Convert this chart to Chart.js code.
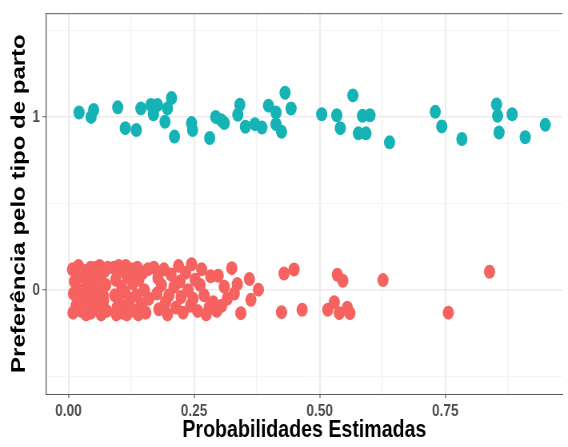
<!DOCTYPE html>
<html>
<head>
<meta charset="utf-8">
<script src="https://cdn.jsdelivr.net/npm/chart.js@4"></script>
<style>
  html, body { margin: 0; padding: 0; background: #fff; overflow: hidden; }
  #wrap { width: 710px; height: 447px; transform: scaleX(0.8); transform-origin: 0 0; }
</style>
</head>
<body>
<div id="wrap"><canvas id="myChart" width="710" height="447"></canvas></div>
<script>
// tick labels
var xTicks = [0, 0.25, 0.5, 0.75];
var xTickLabels = ["0.00", "0.25", "0.50", "0.75"];
var xMinorTicks = [0.125, 0.375, 0.625, 0.875];
var yTicks = [0, 1];
var yTickLabels = ["0", "1"];
var yMinorTicks = [-0.5, 0.5, 1.5];

// preferência = 0 (jittered around 0)
var redX = [
    0.008, 0.012, 0.010, 0.015, 0.009, 0.020, 0.024, 0.022, 0.027, 0.025,
    0.033, 0.036, 0.031, 0.038, 0.035, 0.044, 0.046, 0.042, 0.048, 0.045,
    0.053, 0.056, 0.052, 0.058, 0.062, 0.064, 0.061, 0.067, 0.065, 0.072,
    0.074, 0.070, 0.076, 0.018, 0.029, 0.040, 0.050, 0.060, 0.078, 0.055,
    0.017, 0.069,
    0.090, 0.094, 0.092, 0.097, 0.095, 0.103, 0.106, 0.101, 0.108, 0.114,
    0.117, 0.112, 0.119, 0.116, 0.125, 0.128, 0.123, 0.131, 0.137, 0.140,
    0.135, 0.142, 0.139, 0.148, 0.151, 0.146, 0.154, 0.158, 0.160, 0.100,
    0.133, 0.121,
    0.170, 0.176, 0.180, 0.190, 0.193, 0.197, 0.204, 0.210, 0.214, 0.219,
    0.224, 0.228, 0.233, 0.238, 0.243, 0.245, 0.252, 0.257, 0.265, 0.270,
    0.274, 0.283, 0.288, 0.295, 0.298, 0.310, 0.316, 0.336, 0.330,
    0.185, 0.200, 0.222, 0.262, 0.280, 0.305, 0.248, 0.178,
    0.325, 0.429, 0.449, 0.535, 0.546, 0.626, 0.424, 0.465, 0.516, 0.529,
    0.539, 0.555, 0.560, 0.343, 0.363, 0.378, 0.360, 0.838, 0.756
];
var redY = [
    0.12, 0.05, -0.02, -0.09, -0.13, 0.14, 0.08, 0.00, -0.06, -0.12,
    0.11, 0.03, -0.04, -0.10, -0.14, 0.13, 0.06, -0.01, -0.08, -0.13,
    0.10, 0.02, -0.05, -0.11, 0.14, 0.07, -0.02, -0.09, -0.14, 0.11,
    0.03, -0.06, -0.12, 0.10, -0.11, 0.09, -0.07, 0.04, 0.13, 0.13,
    -0.05, -0.03,
    0.13, 0.06, -0.03, -0.10, -0.14, 0.11, 0.02, -0.07, -0.13, 0.14,
    0.08, -0.01, -0.09, -0.14, 0.12, 0.04, -0.05, -0.12, 0.13, 0.06,
    -0.03, -0.10, -0.14, 0.10, 0.00, -0.08, -0.13, 0.12, -0.05, 0.14,
    0.10, -0.11,
    0.13, -0.02, -0.11, 0.12, -0.07, -0.14, 0.09, 0.02, -0.10, 0.14,
    -0.04, -0.13, 0.10, 0.00, -0.09, 0.15, 0.06, -0.12, 0.12, -0.03,
    -0.14, 0.08, -0.07, -0.12, 0.083, 0.02, -0.05, 0.035, -0.02,
    0.03, -0.03, 0.05, 0.03, -0.10, -0.09, -0.05, 0.07,
    0.127, 0.096, 0.119, 0.089, 0.054, 0.058, -0.127, -0.113, -0.113, -0.070,
    -0.133, -0.102, -0.133, -0.133, -0.056, 0.003, 0.064, 0.106, -0.130
];

// preferência = 1 (jittered around 1)
var tealX = [
    0.021, 0.050, 0.045, 0.098, 0.113, 0.135, 0.144, 0.164, 0.177, 0.169,
    0.197, 0.205, 0.192, 0.211, 0.245, 0.247, 0.281, 0.293, 0.304, 0.310,
    0.341, 0.337, 0.352, 0.371, 0.385, 0.398, 0.413, 0.413, 0.424, 0.431,
    0.443,
    0.504, 0.534, 0.541, 0.566, 0.585, 0.600, 0.577, 0.592, 0.639, 0.730,
    0.743, 0.783, 0.852, 0.854, 0.857, 0.883, 0.909, 0.949
];
var tealY = [
    1.026, 1.041, 1.001, 1.056, 0.936, 0.925, 1.050, 1.070, 1.070, 1.016,
    1.050, 1.110, 0.973, 0.887, 0.965, 0.925, 0.879, 1.001, 0.982, 0.965,
    1.071, 1.013, 0.944, 0.959, 0.940, 1.066, 1.026, 0.959, 0.915, 1.140,
    1.049,
    1.016, 1.010, 0.936, 1.125, 1.007, 1.010, 0.906, 0.906, 0.854, 1.030,
    0.946, 0.873, 1.073, 1.007, 0.911, 1.016, 0.883, 0.955
];

function toPoints(xs, ys) {
    var pts = [];
    xs.forEach((x, i) => {
        pts.push({ x: x, y: ys[i] });
    });
    return pts;
}

function isMajor(list, ctx) {
    return ctx.tick && list.indexOf(ctx.tick.value) >= 0;
}

var topBorder = {
    id: "topBorder",
    afterDraw: function (chart) {
        var a = chart.chartArea;
        var ctx = chart.ctx;
        ctx.save();
        ctx.strokeStyle = "#5a5a5a";
        ctx.lineWidth = 1;
        ctx.beginPath();
        ctx.moveTo(a.left, a.top + 0.5);
        ctx.lineTo(a.right, a.top + 0.5);
        ctx.stroke();
        ctx.restore();
    },
};

Chart.defaults.font.family = "'Liberation Sans', Arial, sans-serif";

var chart = new Chart(document.getElementById("myChart"), {
    type: "scatter",
    data: {
        datasets: [
            {
                label: "0",
                data: toPoints(redX, redY),
                backgroundColor: "#F5625F",
                borderWidth: 0,
                pointRadius: 7,
            },
            {
                label: "1",
                data: toPoints(tealX, tealY),
                backgroundColor: "#16B3B6",
                borderWidth: 0,
                pointRadius: 7,
            },
        ],
    },
    options: {
        responsive: false,
        animation: false,
        events: [],
        layout: { padding: { top: 10, right: 0, left: 0, bottom: 0 } },
        plugins: {
            legend: { display: false },
            tooltip: { enabled: false },
        },
        scales: {
            x: {
                type: "linear",
                min: -0.044,
                max: 0.983,
                afterBuildTicks: function (scale) {
                    scale.ticks = xTicks.concat(xMinorTicks)
                        .sort((a, b) => a - b)
                        .map((v) => ({ value: v }));
                },
                afterFit: function (scale) {
                    scale.height = 53;
                },
                ticks: {
                    autoSkip: false,
                    maxRotation: 0,
                    padding: 3,
                    color: "#4D4D4D",
                    font: { size: 17, weight: "bold" },
                    callback: function (value) {
                        var i = xTicks.indexOf(value);
                        return i >= 0 ? xTickLabels[i] : "";
                    },
                },
                grid: {
                    color: (ctx) => (isMajor(xTicks, ctx) ? "#EBEBEB" : "#F4F4F4"),
                    lineWidth: (ctx) => (isMajor(xTicks, ctx) ? 2 : 1.5),
                    tickColor: (ctx) => (isMajor(xTicks, ctx) ? "#5a5a5a" : "rgba(0,0,0,0)"),
                    tickLength: 4,
                    tickWidth: 1.2,
                },
                border: { display: true, color: "#5a5a5a", width: 1 },
                title: {
                    display: true,
                    text: "Probabilidades Estimadas",
                    color: "#000",
                    font: { size: 24.5, weight: "bold" },
                    padding: { top: 0, bottom: 2 },
                },
            },
            y: {
                type: "linear",
                min: -0.6,
                max: 1.6,
                afterBuildTicks: function (scale) {
                    scale.ticks = yTicks.concat(yMinorTicks)
                        .sort((a, b) => a - b)
                        .map((v) => ({ value: v }));
                },
                afterFit: function (scale) {
                    scale.width = 58;
                },
                ticks: {
                    autoSkip: false,
                    padding: 3,
                    color: "#4D4D4D",
                    font: { size: 17, weight: "bold" },
                    callback: function (value) {
                        var i = yTicks.indexOf(value);
                        return i >= 0 ? yTickLabels[i] : "";
                    },
                },
                grid: {
                    color: (ctx) => (isMajor(yTicks, ctx) ? "#EBEBEB" : "#F4F4F4"),
                    lineWidth: (ctx) => (isMajor(yTicks, ctx) ? 1.5 : 1),
                    tickColor: (ctx) => (isMajor(yTicks, ctx) ? "#5a5a5a" : "rgba(0,0,0,0)"),
                    tickLength: 5,
                    tickWidth: 1,
                },
                border: { display: true, color: "#5a5a5a", width: 1.25 },
                title: {
                    display: true,
                    text: "Preferência pelo tipo de parto",
                    color: "#000",
                    font: { size: 24, weight: "bold" },
                    padding: { top: 10, bottom: 0 },
                },
            },
        },
    },
    plugins: [topBorder],
});
</script>
</body>
</html>
